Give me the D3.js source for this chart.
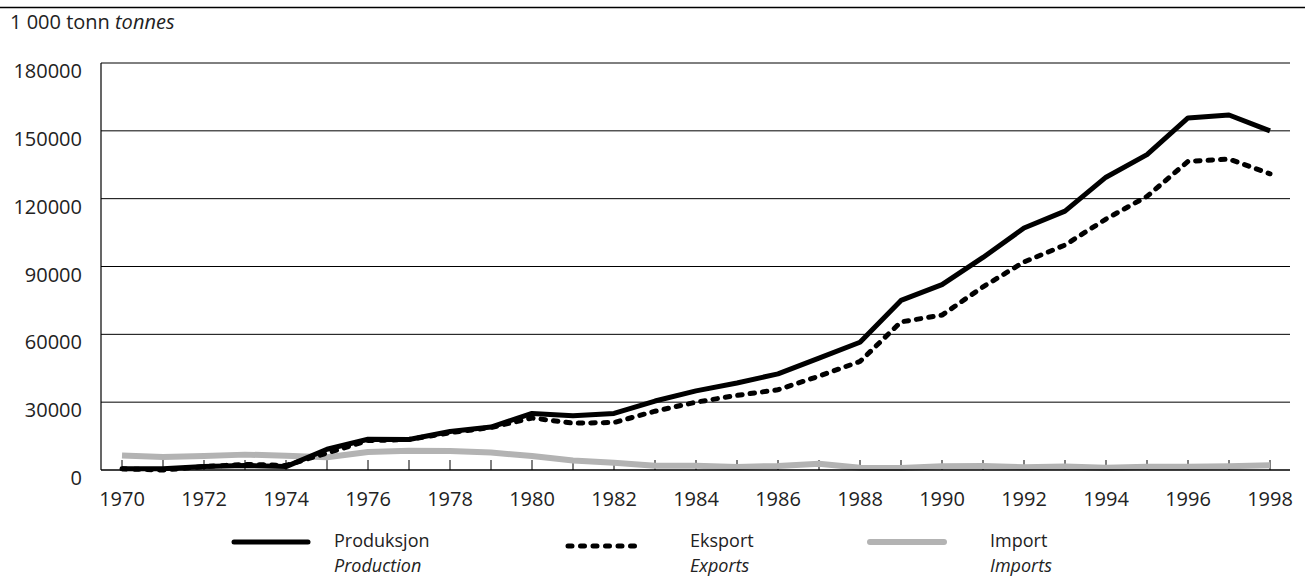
<!DOCTYPE html>
<html><head><meta charset="utf-8">
<script src="https://cdn.jsdelivr.net/npm/d3@7"></script>
<style>
body{margin:0;background:#fff;}
text{font-family:"Open Sans",sans-serif;fill:#222;}
</style></head>
<body>
<svg id="c" width="1305" height="578"></svg>
<script>
const years = d3.range(1970, 1999);
const production = [500,500,1500,2000,1500,9200,13600,13500,17000,19000,25000,24000,25000,30500,35000,38500,42500,49500,56500,75000,82000,94000,107000,114500,129500,139500,155700,157000,150000];
const exports = [500,0,1500,2500,2000,7500,13000,13500,16500,18800,23000,20700,21000,26000,30000,33000,35500,41500,48000,65500,68500,81000,92000,99500,111000,121000,136500,137500,131000];
const imports = [6400,5700,6200,6800,6300,5600,8000,8500,8400,7700,6200,4200,3200,1900,1900,1300,1800,2800,1000,900,1700,1800,1200,1500,1000,1400,1400,1700,2100];
const yTicks = [0,30000,60000,90000,120000,150000,180000];
const xTickLabels = d3.range(1970, 1999, 2);
const legendItems = [
  {no:"Produksjon", en:"Production", key:"production"},
  {no:"Eksport", en:"Exports", key:"exports"},
  {no:"Import", en:"Imports", key:"imports"}
];

const svg = d3.select("#c");
const mLeft = 101, mRight = 1290, mTop = 63, mBottom = 470;
const FS = 20, LFS = 18;
const x = d3.scaleLinear().domain([1970, 1998]).range([122, 1270]);
const y = d3.scaleLinear().domain([0, 180000]).range([mBottom, mTop]);

// top rule
svg.append("line").attr("x1",0).attr("x2",1305).attr("y1",7.5).attr("y2",7.5).attr("stroke","#000").attr("stroke-width",1.5);
const unit = svg.append("text").attr("x",10).attr("y",29).attr("font-size",FS);
unit.append("tspan").text("1 000 tonn ");
unit.append("tspan").attr("font-style","italic").text("tonnes");

// grid
svg.append("g").selectAll("line").data(yTicks.filter(d=>d>0)).join("line")
  .attr("x1",mLeft).attr("x2",mRight).attr("y1",d=>y(d)).attr("y2",d=>y(d))
  .attr("stroke","#000").attr("stroke-width",1);

// y labels (set slightly below their lines, as in the original)
svg.append("g").selectAll("text").data(yTicks).join("text")
  .attr("x",82).attr("y",d=>y(d)+15).attr("text-anchor","end")
  .attr("font-size",FS).text(d=>d);

// left axis line
svg.append("line").attr("x1",mLeft).attr("x2",mLeft).attr("y1",mTop).attr("y2",mBottom).attr("stroke","#000").attr("stroke-width",1.2);

// x ticks inward
svg.append("g").selectAll("line").data(years).join("line")
  .attr("x1",d=>x(d)).attr("x2",d=>x(d)).attr("y1",mBottom).attr("y2",mBottom-10)
  .attr("stroke","#000").attr("stroke-width",1);

svg.append("g").selectAll("text").data(xTickLabels).join("text")
  .attr("x",d=>x(d)).attr("y",mBottom+36).attr("text-anchor","middle")
  .attr("font-size",FS).text(d=>d);

const line = d3.line().x((d,i)=>x(years[i])).y(d=>y(d));
const styles = {
  production:{stroke:"#000",width:5,dash:null,data:production},
  exports:{stroke:"#000",width:5,dash:"4.5,8",data:exports},
  imports:{stroke:"#b3b3b3",width:6,dash:null,data:imports}
};
["imports","exports","production"].forEach(k=>{
  const s = styles[k];
  svg.append("path").datum(s.data).attr("d",line)
    .attr("fill","none").attr("stroke",s.stroke).attr("stroke-width",s.width)
    .attr("stroke-linejoin","round").attr("stroke-linecap",k==="exports"?"round":"butt")
    .attr("stroke-dasharray",s.dash);
});

// bottom axis line
svg.append("line").attr("x1",mLeft).attr("x2",mRight).attr("y1",mBottom).attr("y2",mBottom).attr("stroke","#000").attr("stroke-width",1.5);

// legend
const legX = [{lx:234,tx:334,ly:542},{lx:568,tx:690,ly:546},{lx:870,tx:990,ly:542}];
const legDash = {production:null, exports:"4,8.5", imports:null};
legendItems.forEach((it,i)=>{
  const s = styles[it.key];
  svg.append("line").attr("x1",legX[i].lx).attr("x2",legX[i].lx+74).attr("y1",legX[i].ly).attr("y2",legX[i].ly)
    .attr("stroke",s.stroke).attr("stroke-width",s.width)
    .attr("stroke-linecap","round").attr("stroke-dasharray",legDash[it.key]);
  svg.append("text").attr("x",legX[i].tx).attr("y",547).attr("font-size",LFS).text(it.no);
  svg.append("text").attr("x",legX[i].tx).attr("y",572).attr("font-size",LFS).attr("font-style","italic").text(it.en);
});
</script>
</body></html>
